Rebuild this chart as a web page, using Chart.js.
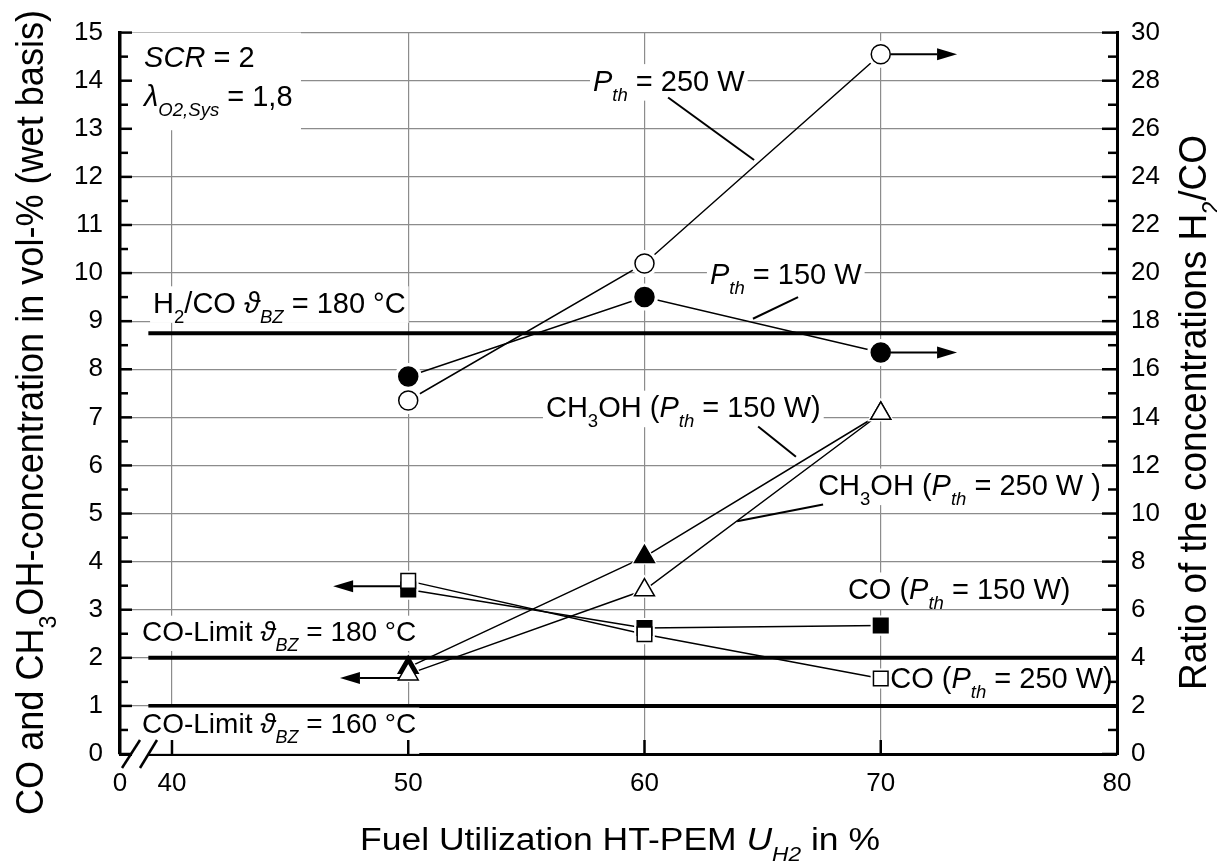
<!DOCTYPE html>
<html>
<head>
<meta charset="utf-8">
<script src="https://cdn.jsdelivr.net/npm/chart.js@4.4.1/dist/chart.umd.min.js"></script>
<style>
html,body{margin:0;padding:0;background:#fff;overflow:hidden;}
#wrap{position:relative;width:1217px;height:866px;}
</style>
</head>
<body>
<div id="wrap"><canvas id="chart" width="1217" height="866"></canvas></div>
<script>
// ---------------- data ----------------
const fuelUtilization = [50, 60, 70];
const ratioH2CO_150W = [15.7, 19.0, 16.7];   // right axis, filled circles
const ratioH2CO_250W = [14.7, 20.4, 29.1];   // right axis, open circles
const ch3oh_150W = [1.80, 4.10, 7.08];       // left axis, filled triangles
const ch3oh_250W = [1.66, 3.41, 7.08];       // left axis, open triangles
const co_150W = [3.42, 2.62, 2.67];          // left axis, filled squares
const co_250W = [3.60, 2.49, 1.57];          // left axis, open squares
const limitH2CO180 = 17.5;                   // right axis
const limitCO180 = 2;
const limitCO160 = 1;
const limitRange = [39, 80];
const xTickValues = [40, 50, 60, 70, 80];
const xAxisMin = 37.8, xAxisMax = 80;
const xBreakLabel = '0';
const leftTickValues = [0,1,2,3,4,5,6,7,8,9,10,11,12,13,14,15];
const rightTickValues = [0,2,4,6,8,10,12,14,16,18,20,22,24,26,28,30];

// ---------------- styling ----------------
const FONT = '"Liberation Sans", Arial, Helvetica, sans-serif';
const GRID = '#8c8c8c';
const ANN_FS = 29;

// annotation texts: segments [text, flags] (i = italic, s = subscript); anchor in data coords (x, left-y)
const annotationTexts = [
  {segs: [['SCR','i'],[' = 2','']], at: [38.82, 14.28], box: false},
  {segs: [['λ','i'],['O2,Sys','is'],[' = 1,8','']], at: [38.82, 13.48], box: false},
  {segs: [['H',''],['2','s'],['/CO ',''],['ϑ','i'],['BZ','is'],[' = 180 °C','']], at: [39.20, 9.17]},
  {segs: [['P','i'],['th','is'],[' = 250 W','']], at: [57.82, 13.79]},
  {segs: [['P','i'],['th','is'],[' = 150 W','']], at: [62.77, 9.77]},
  {segs: [['CH',''],['3','s'],['OH (',''],['P','i'],['th','is'],[' = 150 W)','']], at: [55.83, 7.00]},
  {segs: [['CH',''],['3','s'],['OH (',''],['P','i'],['th','is'],[' = 250 W )','']], at: [67.35, 5.38]},
  {segs: [['CO (',''],['P','i'],['th','is'],[' = 150 W)','']], at: [68.61, 3.22]},
  {segs: [['CO (',''],['P','i'],['th','is'],[' = 250 W)','']], at: [70.40, 1.37], padL: 0},
  {segs: [['CO-Limit ',''],['ϑ','i'],['BZ','is'],[' = 180 °C','']], at: [38.73, 2.34], fs: 28},
  {segs: [['CO-Limit ',''],['ϑ','i'],['BZ','is'],[' = 160 °C','']], at: [38.73, 0.43], fs: 28, padB: 11}
];
const whiteBoxes = [ {x0: xAxisMin, x1: 45.46, y0: 12.97, y1: 15} ];
const leaderLines = [
  [[61.00, 13.65], [64.64, 12.35]],
  [[66.50, 9.50], [64.59, 9.05]],
  [[64.81, 6.81], [66.41, 6.18]],
  [[67.56, 5.19], [63.92, 4.84]]
];
const arrows = [
  {axis: 'y2', x: 70, y: ratioH2CO_250W[2], tipX: 73.23, gap: 10},
  {axis: 'y2', x: 70, y: ratioH2CO_150W[2], tipX: 73.23, gap: 10},
  {axis: 'y',  x: 50, y: 3.49, tipX: 46.82, gap: 8},
  {axis: 'y',  x: 50, y: 1.58, tipX: 47.11, gap: 9}
];

const pts = ys => fuelUtilization.map((x, i) => ({x, y: ys[i]}));

const series = [
  {ys: ratioH2CO_250W, axis: 'y2', style: 'circle',   r: 9.5, open: true},
  {ys: ratioH2CO_150W, axis: 'y2', style: 'circle',   r: 9.5, open: false},
  {ys: ch3oh_150W,     axis: 'y',  style: 'triangle', r: 11.5, open: false},
  {ys: ch3oh_250W,     axis: 'y',  style: 'triangle', r: 11.5, open: true},
  {ys: co_150W,        axis: 'y',  style: 'rect',     r: 10.3, open: false},
  {ys: co_250W,        axis: 'y',  style: 'rect',     r: 10.3, open: true}
];

const datasets = [];
series.forEach(s => {
  datasets.push({data: pts(s.ys), yAxisID: s.axis, showLine: true, borderColor: '#000', borderWidth: 1.5,
    pointRadius: 0, tension: 0, order: 30});
  datasets.push({data: pts(s.ys), yAxisID: s.axis, showLine: false, pointStyle: s.style,
    pointRadius: s.r + 4, pointBackgroundColor: '#fff', pointBorderColor: '#fff', pointBorderWidth: 0, order: 20});
  datasets.push({data: pts(s.ys), yAxisID: s.axis, showLine: false, pointStyle: s.style,
    pointRadius: s.r, pointBackgroundColor: s.open ? '#fff' : '#000', pointBorderColor: '#000',
    pointBorderWidth: 1.5, order: s.open ? 9 : 10});
});
[[limitH2CO180, 'y2'], [limitCO180, 'y'], [limitCO160, 'y']].forEach(([v, ax]) => {
  datasets.push({data: [{x: limitRange[0], y: v}, {x: limitRange[1], y: v}], yAxisID: ax, showLine: true,
    borderColor: '#000', borderWidth: 4, pointRadius: 0, order: 15});
});

// ---------------- text helpers ----------------
function fontStr(size, italic) { return (italic ? 'italic ' : '') + size + 'px ' + FONT; }
function measureSegs(ctx, segs, fs) {
  let w = 0; const items = [];
  for (const [t, f] of segs) {
    const it = f.includes('i'), sub = f.includes('s');
    const size = sub ? fs * 0.64 : fs;
    ctx.font = fontStr(size, it);
    const sw = ctx.measureText(t).width;
    items.push({t, it, sub, size, dx: w});
    w += sw;
  }
  return {items, width: w};
}
function drawSegs(ctx, m, x, y, fs) {
  ctx.textAlign = 'left'; ctx.textBaseline = 'alphabetic'; ctx.fillStyle = '#000';
  for (const it of m.items) {
    ctx.font = fontStr(it.size, it.it);
    ctx.fillText(it.t, x + it.dx, y + (it.sub ? fs * 0.34 : 0));
  }
}
function drawFitted(ctx, segs, fs, ox, oy, rotate, len, thick) {
  const m = measureSegs(ctx, segs, fs);
  ctx.save();
  ctx.translate(ox, oy);
  if (rotate) ctx.rotate(-Math.PI / 2);
  ctx.scale(len / m.width, thick || 1);
  drawSegs(ctx, m, 0, 0, fs);
  ctx.restore();
}
function seg(ctx, x0, y0, x1, y1) { ctx.beginPath(); ctx.moveTo(x0, y0); ctx.lineTo(x1, y1); ctx.stroke(); }

const decor = {
  id: 'decor',
  afterDatasetsDraw(chart) {
    const {ctx, chartArea: ca} = chart;
    const sx = chart.scales.x, sy = chart.scales.y, sy2 = chart.scales.y2;
    ctx.save();
    ctx.fillStyle = '#fff';
    for (const b of whiteBoxes) {
      const x0 = Math.max(sx.getPixelForValue(b.x0), ca.left + 2);
      const x1 = sx.getPixelForValue(b.x1);
      const y0 = sy.getPixelForValue(b.y1), y1 = sy.getPixelForValue(b.y0);
      ctx.fillRect(x0, y0, x1 - x0, y1 - y0);
    }
    for (const a of annotationTexts) {
      const fs = a.fs || ANN_FS;
      const m = measureSegs(ctx, a.segs, fs);
      const px = sx.getPixelForValue(a.at[0]), py = sy.getPixelForValue(a.at[1]);
      if (a.box !== false) {
        ctx.fillStyle = '#fff';
        const padL = a.padL !== undefined ? a.padL : 3;
        const top = py - fs * 0.92, bot = py + fs * 0.34 + (a.padB || 0);
        ctx.fillRect(px - padL, top, m.width + padL + 3, bot - top);
      }
      drawSegs(ctx, m, px, py, fs);
    }
    ctx.strokeStyle = '#000'; ctx.lineWidth = 2; ctx.lineCap = 'butt';
    for (const [p, q] of leaderLines) {
      seg(ctx, sx.getPixelForValue(p[0]), sy.getPixelForValue(p[1]), sx.getPixelForValue(q[0]), sy.getPixelForValue(q[1]));
    }
    ctx.fillStyle = '#000';
    for (const a of arrows) {
      const scale = a.axis === 'y2' ? sy2 : sy;
      const x0 = sx.getPixelForValue(a.x), py = scale.getPixelForValue(a.y), tip = sx.getPixelForValue(a.tipX);
      const dir = Math.sign(tip - x0), hl = 20, hw = 6;
      ctx.lineWidth = 2;
      seg(ctx, x0 + dir * a.gap, py, tip - dir * hl, py);
      ctx.beginPath(); ctx.moveTo(tip, py); ctx.lineTo(tip - dir * hl, py - hw); ctx.lineTo(tip - dir * hl, py + hw); ctx.closePath(); ctx.fill();
    }
    ctx.lineWidth = 2.5;
    for (let i = 0; i < leftTickValues.length; i++) {
      const v = leftTickValues[i];
      seg(ctx, ca.left, sy.getPixelForValue(v), ca.left + 12, sy.getPixelForValue(v));
      if (i < leftTickValues.length - 1) {
        const mv = (v + leftTickValues[i + 1]) / 2;
        seg(ctx, ca.left, sy.getPixelForValue(mv), ca.left + 8, sy.getPixelForValue(mv));
      }
    }
    for (let i = 0; i < rightTickValues.length; i++) {
      const v = rightTickValues[i];
      seg(ctx, ca.right - 15, sy2.getPixelForValue(v), ca.right, sy2.getPixelForValue(v));
      if (i < rightTickValues.length - 1) {
        const mv = (v + rightTickValues[i + 1]) / 2;
        seg(ctx, ca.right - 9, sy2.getPixelForValue(mv), ca.right, sy2.getPixelForValue(mv));
      }
    }
    for (const v of xTickValues) {
      if (v >= xAxisMax) continue;
      const px = sx.getPixelForValue(v);
      seg(ctx, px, ca.bottom, px, ca.bottom - 14);
    }
    const bx = ca.left, by = ca.bottom;
    ctx.fillStyle = '#fff';
    ctx.fillRect(bx + 12, by - 3, 17, 6);
    ctx.lineWidth = 2.5;
    seg(ctx, bx + 2, by + 14, bx + 20, by - 14);
    seg(ctx, bx + 20, by + 14, bx + 37, by - 14);
    drawFitted(ctx, [['CO and CH',''],['3','s'],['OH-concentration in vol-% (wet basis)','']], 35, 43, 815, true, 805, 1.1);
    drawFitted(ctx, [['Ratio of the concentrations H',''],['2','s'],['/CO','']], 35, 1206, 690, true, 555, 1.1);
    drawFitted(ctx, [['Fuel Utilization HT-PEM ',''],['U','i'],['H2','is'],[' in %','']], 31, 360, 850, false, 520, 1);
    ctx.restore();
  }
};

const tickFont = {family: FONT, size: 26};

new Chart(document.getElementById('chart'), {
  type: 'scatter',
  data: {datasets},
  options: {
    responsive: false,
    animation: false,
    events: [],
    layout: {padding: {top: 23, left: 0, right: 0, bottom: 0}},
    plugins: {legend: {display: false}, tooltip: {enabled: false}},
    scales: {
      x: {
        type: 'linear', position: 'bottom', min: xAxisMin, max: xAxisMax,
        afterBuildTicks: s => { s.ticks = [xAxisMin, ...xTickValues].map(v => ({value: v})); },
        afterFit: s => { s.height = 112; },
        ticks: {font: tickFont, color: '#000', padding: 14, maxRotation: 0, autoSkip: false,
          callback: v => (v < xTickValues[0] ? xBreakLabel : String(v))},
        grid: {color: c => (c.tick && c.tick.value > xAxisMin + 0.5 && c.tick.value < xAxisMax - 0.5) ? GRID : 'rgba(0,0,0,0)',
          lineWidth: 1.2, drawTicks: false},
        border: {display: true, color: '#000', width: 3}
      },
      y: {
        type: 'linear', position: 'left', min: 0, max: 15,
        afterBuildTicks: s => { s.ticks = leftTickValues.map(v => ({value: v})); },
        afterFit: s => { s.width = 120; },
        ticks: {font: tickFont, color: '#000', padding: 17},
        grid: {color: GRID, lineWidth: 1.2, drawTicks: false},
        border: {display: true, color: '#000', width: 3.5}
      },
      y2: {
        type: 'linear', position: 'right', min: 0, max: 30,
        afterBuildTicks: s => { s.ticks = rightTickValues.map(v => ({value: v})); },
        afterFit: s => { s.width = 100; },
        ticks: {font: tickFont, color: '#000', padding: 14},
        grid: {drawOnChartArea: false, drawTicks: false},
        border: {display: true, color: '#000', width: 3}
      }
    }
  },
  plugins: [decor]
});
</script>
</body>
</html>
